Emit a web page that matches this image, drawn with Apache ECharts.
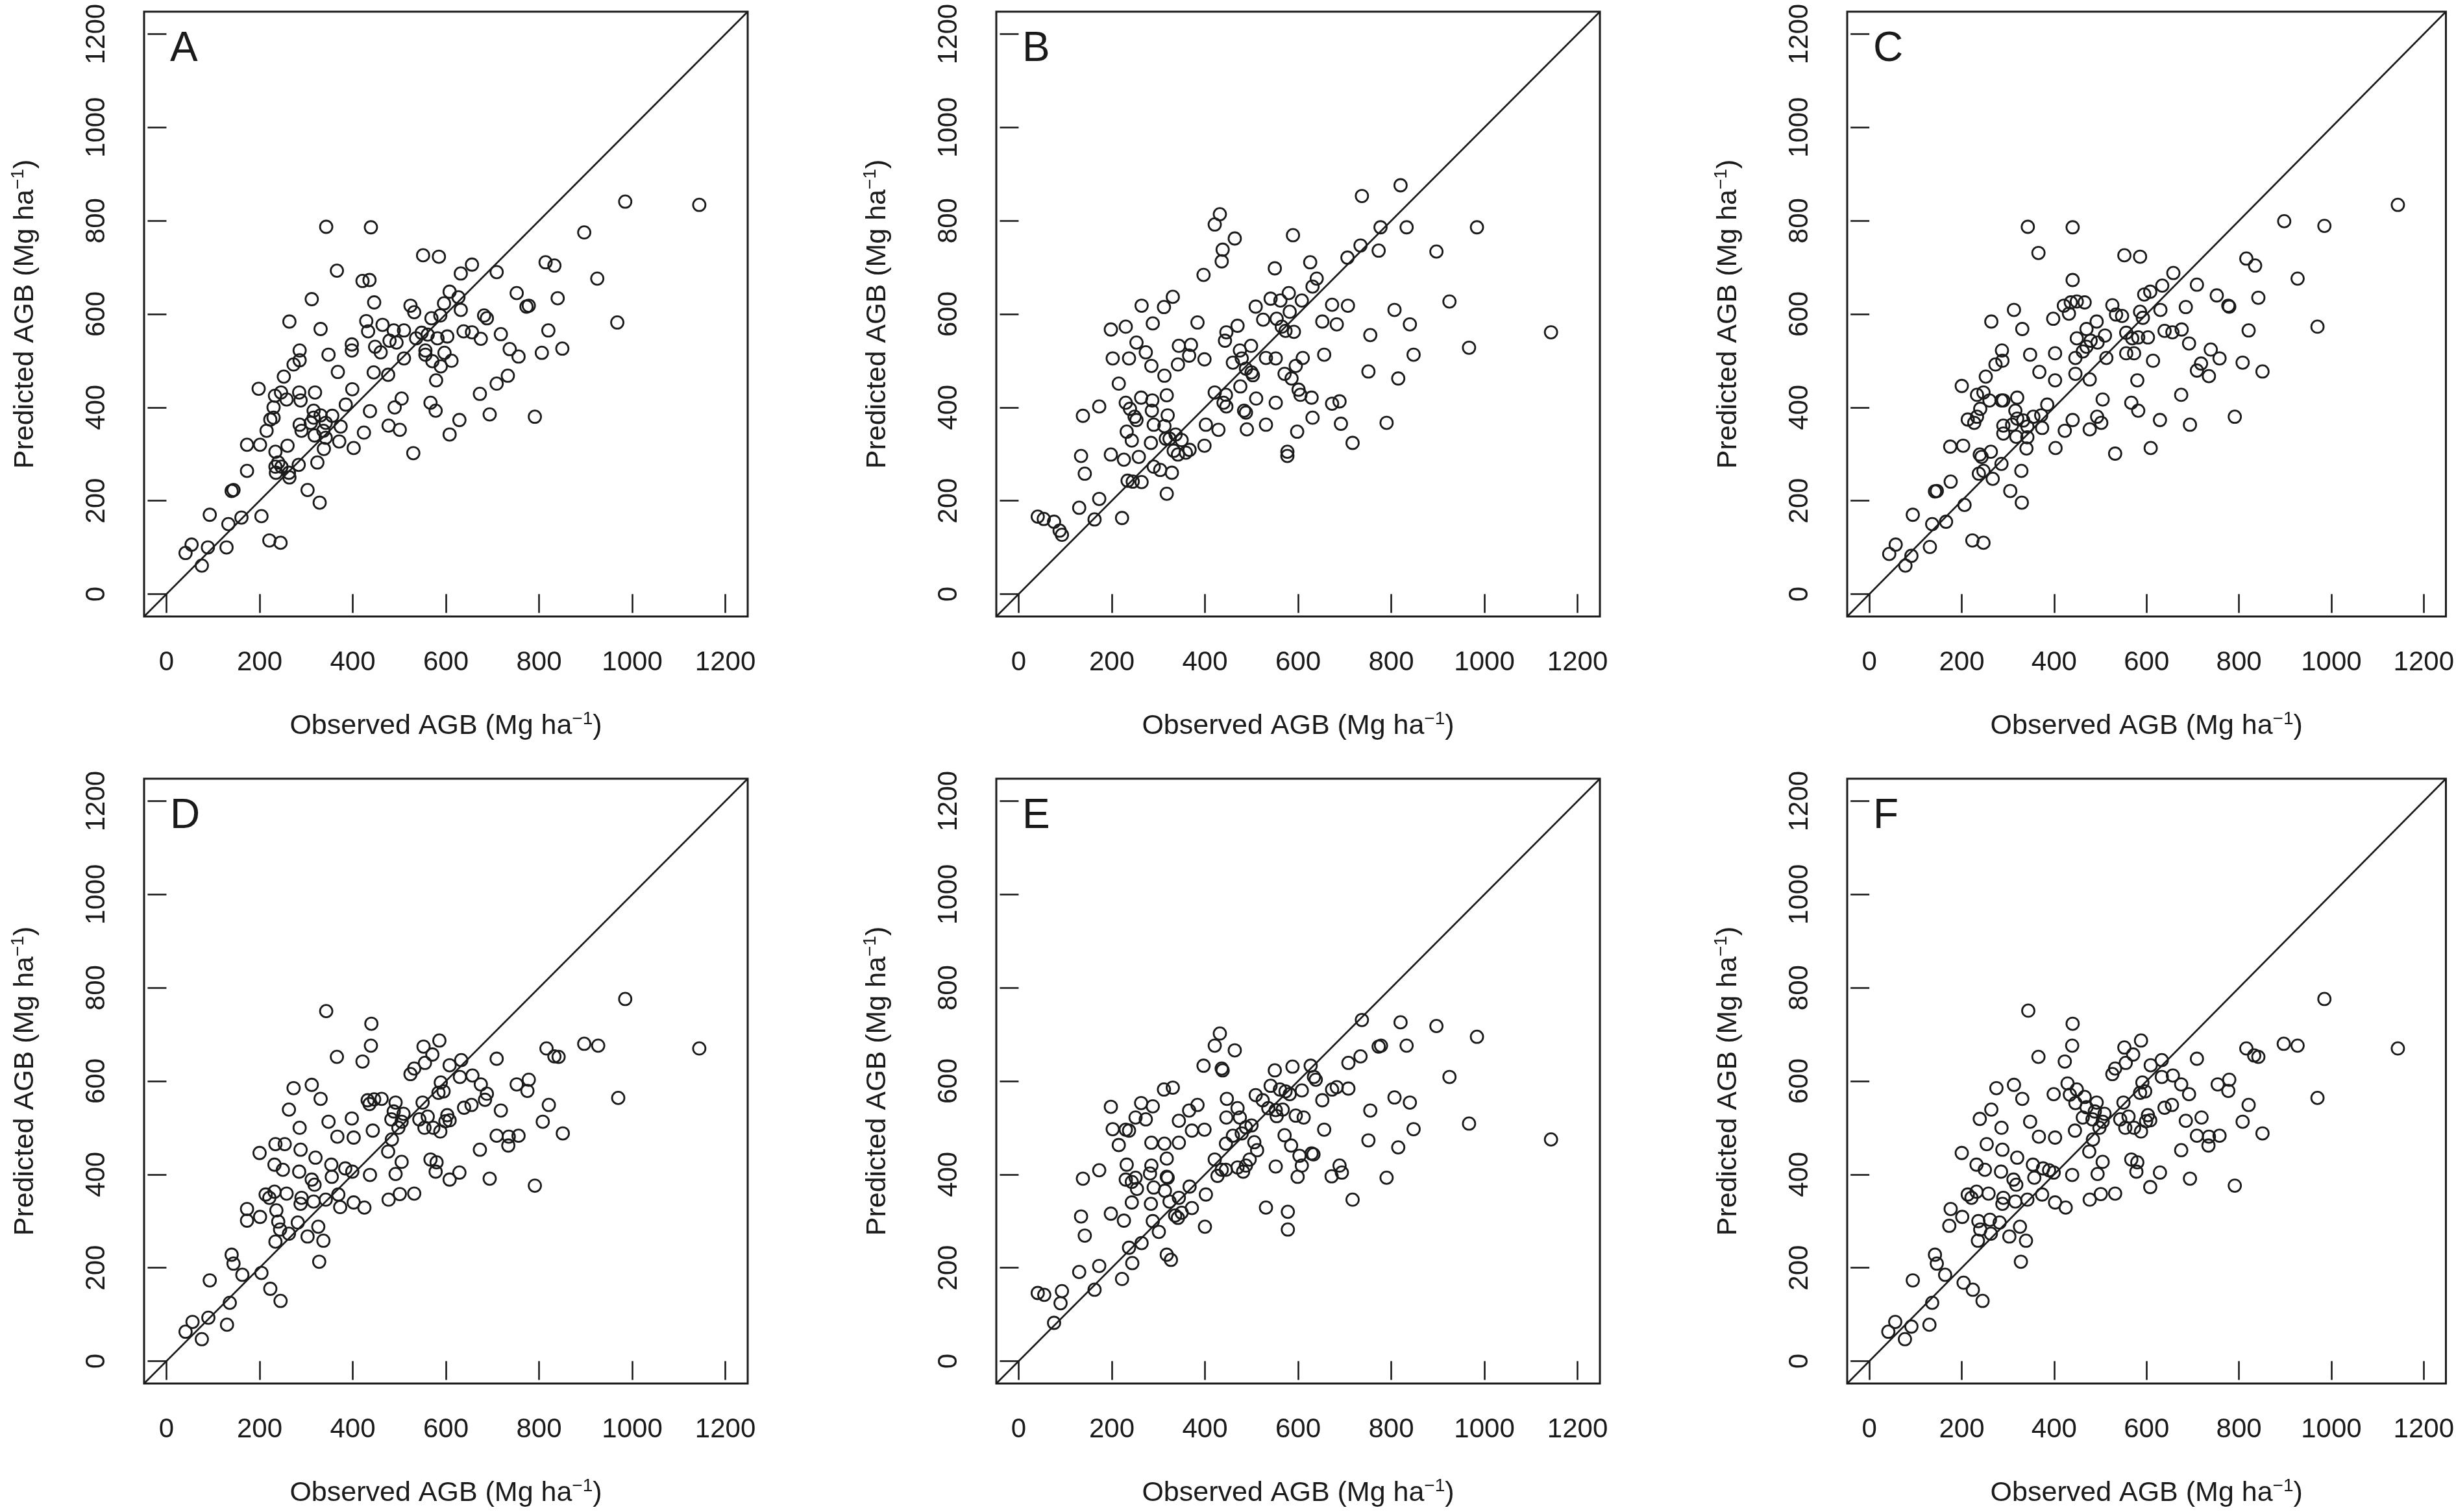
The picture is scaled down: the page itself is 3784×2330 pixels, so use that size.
<!DOCTYPE html>
<html>
<head>
<meta charset="utf-8">
<script src="https://cdn.jsdelivr.net/npm/echarts@6/dist/echarts.min.js"></script>
<style>
html,body{margin:0;padding:0;background:#fff;}
#chart{width:3784px;height:2330px;}
</style>
</head>
<body>
<div id="chart"></div>
<script>
// ---- data (Observed AGB, Predicted AGB) in Mg ha-1 ----
const panelLabels = ['A', 'B', 'C', 'D', 'E', 'F'];
const tickValues = [0, 200, 400, 600, 800, 1000, 1200];
const axisRange = [-48, 1248];

const panelA = [[985,841],[1144,834],[343,787],[439,786],[897,775],[551,726],[585,723],[656,706],[814,711],[833,704],[632,687],[709,690],[366,693],[925,676],[421,671],[436,673],[312,632],[446,625],[752,645],[840,634],[608,648],[627,636],[524,618],[532,604],[596,623],[632,609],[773,616],[778,618],[968,582],[264,584],[331,568],[429,585],[569,591],[588,597],[682,597],[688,591],[433,563],[464,577],[488,565],[510,565],[479,543],[494,539],[448,530],[548,560],[561,556],[536,548],[582,548],[603,552],[638,563],[656,561],[675,547],[718,557],[820,565],[398,535],[398,522],[286,522],[286,501],[273,492],[348,513],[460,518],[556,522],[556,513],[597,517],[612,500],[571,499],[589,488],[510,505],[737,525],[756,509],[806,517],[850,526],[252,466],[368,476],[445,475],[476,470],[579,458],[709,451],[733,468],[198,440],[246,432],[285,432],[319,432],[399,439],[233,425],[258,417],[288,415],[230,400],[385,406],[505,419],[490,400],[567,410],[578,393],[673,429],[437,392],[230,378],[223,374],[316,393],[316,378],[331,383],[356,382],[286,363],[310,367],[342,367],[374,359],[337,350],[215,350],[290,350],[318,340],[342,335],[424,346],[477,361],[501,352],[629,373],[694,385],[791,380],[608,342],[173,320],[201,320],[260,318],[371,327],[402,313],[338,311],[234,305],[530,302],[240,282],[234,273],[247,273],[284,277],[324,282],[173,264],[235,260],[263,260],[264,250],[140,221],[144,223],[303,223],[329,196],[93,170],[161,164],[133,150],[204,167],[221,115],[245,110],[54,106],[41,88],[89,100],[129,100],[76,61]];

const panelB = [[820,876],[737,853],[432,814],[421,792],[777,786],[833,786],[984,786],[589,769],[464,762],[438,738],[436,713],[734,747],[773,736],[706,721],[897,734],[626,711],[550,698],[397,684],[640,676],[631,659],[331,637],[264,618],[312,615],[541,633],[562,629],[580,645],[608,629],[509,616],[582,605],[525,588],[554,590],[673,620],[707,618],[925,627],[807,609],[384,582],[288,580],[198,567],[230,573],[470,575],[446,561],[443,543],[565,573],[591,562],[573,564],[652,584],[683,578],[840,578],[755,555],[1143,561],[967,528],[848,513],[253,539],[273,518],[344,532],[370,534],[366,511],[342,492],[202,505],[237,505],[399,503],[285,489],[475,522],[499,532],[460,496],[479,505],[488,483],[500,475],[503,469],[531,506],[552,505],[610,506],[595,489],[571,472],[586,462],[656,513],[751,477],[815,462],[313,468],[215,451],[421,432],[445,427],[440,410],[446,402],[476,445],[318,426],[510,419],[552,410],[601,438],[605,427],[629,421],[673,408],[689,413],[138,382],[173,402],[230,410],[239,397],[263,421],[287,415],[286,393],[249,380],[253,373],[320,383],[290,363],[313,360],[316,333],[324,333],[337,342],[232,348],[243,329],[284,324],[350,330],[359,303],[367,309],[342,299],[333,307],[399,318],[402,363],[429,352],[484,393],[488,389],[490,353],[531,363],[598,348],[631,378],[692,365],[717,324],[790,367],[577,305],[577,296],[134,296],[142,258],[198,299],[226,288],[258,294],[290,273],[304,266],[329,260],[234,243],[245,241],[264,240],[318,215],[173,204],[130,185],[163,160],[222,163],[41,166],[54,161],[76,155],[88,136],[93,127]];

const panelC = [[1144,834],[898,799],[985,789],[343,787],[440,786],[366,731],[552,726],[586,723],[816,719],[835,704],[658,688],[927,676],[440,673],[709,663],[634,661],[608,648],[595,642],[752,640],[842,635],[630,609],[685,615],[777,618],[779,616],[313,609],[421,618],[436,625],[449,627],[466,625],[526,619],[534,599],[547,596],[586,605],[592,592],[398,590],[432,601],[264,584],[331,568],[970,573],[821,565],[470,568],[492,584],[510,554],[449,548],[479,543],[494,539],[470,530],[556,560],[603,550],[582,550],[569,548],[639,564],[656,561],[676,567],[692,537],[556,516],[573,516],[513,506],[462,520],[446,506],[402,516],[348,513],[287,522],[288,500],[273,492],[614,500],[739,524],[758,505],[718,494],[709,479],[735,467],[808,496],[851,477],[252,466],[368,476],[402,458],[446,472],[477,460],[580,458],[200,446],[233,427],[247,432],[260,415],[286,415],[290,415],[320,421],[385,406],[505,417],[675,427],[567,410],[582,393],[240,397],[213,374],[227,367],[233,380],[316,393],[320,376],[333,372],[355,380],[372,383],[290,361],[309,363],[342,359],[374,356],[290,344],[318,337],[342,336],[440,373],[493,380],[502,367],[477,353],[423,350],[629,373],[694,363],[791,380],[175,316],[203,318],[263,305],[239,299],[340,312],[403,313],[532,301],[609,313],[243,294],[286,279],[237,258],[247,264],[267,247],[329,264],[176,241],[142,220],[146,221],[305,221],[330,196],[206,191],[94,170],[166,155],[136,150],[223,115],[247,110],[57,106],[43,86],[91,82],[131,101],[78,61]];

const panelD = [[985,776],[1144,670],[343,750],[440,723],[439,676],[552,674],[586,687],[571,657],[555,639],[897,680],[927,676],[816,670],[833,653],[842,652],[366,652],[421,642],[709,648],[633,645],[608,634],[630,609],[657,612],[532,627],[524,615],[778,603],[752,593],[775,579],[675,593],[688,573],[684,560],[589,597],[584,575],[595,578],[312,592],[273,585],[331,562],[970,564],[432,559],[446,561],[462,562],[436,551],[492,554],[488,535],[550,554],[655,549],[639,543],[821,549],[718,537],[263,539],[509,530],[505,513],[498,500],[483,518],[561,524],[543,518],[554,500],[573,500],[588,492],[603,527],[608,516],[599,514],[398,520],[348,513],[286,500],[443,494],[808,513],[851,488],[709,483],[735,481],[756,483],[734,462],[367,481],[402,479],[484,475],[234,465],[254,465],[288,453],[200,446],[476,449],[673,453],[320,436],[232,421],[250,410],[354,421],[384,413],[399,406],[285,406],[505,427],[567,432],[580,426],[578,406],[629,404],[492,401],[437,399],[608,389],[694,391],[791,376],[312,389],[318,378],[355,395],[213,357],[232,363],[258,359],[221,350],[290,350],[288,337],[316,342],[342,346],[369,357],[373,330],[402,340],[425,329],[477,346],[501,358],[532,359],[173,326],[173,301],[201,309],[236,323],[240,299],[244,282],[282,297],[263,273],[303,267],[326,288],[337,258],[234,256],[328,213],[140,228],[144,209],[163,185],[204,189],[93,173],[223,155],[245,129],[136,125],[90,93],[56,84],[41,63],[76,47],[130,78]];

const panelE = [[737,731],[820,726],[897,718],[984,695],[432,702],[421,676],[464,666],[773,674],[778,676],[833,676],[397,633],[436,627],[438,623],[550,623],[588,631],[627,633],[708,639],[734,653],[634,609],[638,603],[925,609],[312,582],[331,586],[541,590],[561,582],[573,578],[582,572],[608,580],[509,570],[524,559],[536,542],[554,525],[552,538],[673,582],[683,587],[708,584],[652,559],[807,565],[840,554],[755,537],[447,562],[198,545],[263,553],[288,546],[384,549],[366,537],[470,542],[446,522],[475,522],[251,522],[273,518],[344,515],[595,526],[612,522],[567,539],[656,496],[848,497],[967,509],[1143,475],[202,497],[230,496],[237,494],[372,494],[399,496],[488,501],[500,505],[479,488],[460,483],[571,484],[215,463],[285,468],[313,466],[344,468],[445,466],[506,469],[512,452],[496,432],[488,419],[482,406],[585,462],[603,440],[608,419],[599,395],[629,445],[633,443],[751,473],[815,458],[318,434],[421,432],[138,391],[173,409],[232,421],[230,389],[243,384],[251,393],[285,419],[282,402],[318,395],[320,393],[436,410],[427,397],[445,410],[470,415],[552,417],[689,419],[694,404],[672,396],[790,393],[254,369],[290,372],[314,365],[367,374],[402,357],[243,340],[284,337],[324,342],[344,350],[372,328],[350,318],[336,312],[342,307],[717,346],[531,329],[578,320],[578,282],[400,288],[134,310],[142,269],[198,316],[226,301],[288,300],[301,277],[264,253],[237,243],[244,210],[318,228],[327,217],[173,204],[130,191],[163,153],[222,176],[41,146],[55,142],[93,150],[90,124],[76,82]];

const panelF = [[985,776],[1144,670],[344,751],[440,723],[439,676],[552,672],[588,687],[571,657],[555,639],[897,680],[927,676],[816,670],[833,655],[842,652],[366,652],[423,642],[709,648],[633,645],[609,634],[633,609],[657,612],[532,627],[526,615],[779,603],[754,593],[777,579],[675,593],[692,572],[685,515],[591,597],[586,575],[597,578],[313,592],[275,585],[331,562],[970,564],[429,595],[449,582],[434,571],[446,553],[466,566],[470,544],[399,572],[492,554],[488,535],[550,554],[655,549],[639,543],[821,549],[719,522],[264,539],[239,519],[509,530],[505,513],[498,500],[483,518],[561,524],[543,518],[554,500],[573,500],[588,492],[603,527],[608,516],[599,514],[462,522],[348,513],[286,500],[445,494],[808,513],[851,488],[709,483],[735,481],[758,483],[734,462],[367,481],[402,479],[484,475],[254,465],[288,453],[200,446],[476,449],[675,452],[320,436],[232,421],[250,410],[354,421],[376,413],[389,409],[399,404],[285,406],[505,427],[567,432],[580,426],[578,406],[629,404],[494,401],[439,399],[608,373],[694,391],[791,376],[312,389],[318,378],[357,393],[213,357],[232,363],[258,359],[221,350],[290,350],[288,337],[316,342],[342,346],[374,357],[402,340],[425,329],[477,346],[501,358],[532,359],[176,326],[173,290],[201,309],[236,300],[240,282],[235,258],[261,303],[282,297],[263,273],[303,267],[326,288],[339,258],[328,213],[142,228],[146,209],[164,185],[204,168],[224,153],[245,129],[94,173],[136,125],[91,74],[56,84],[41,63],[77,47],[130,78]];

const panelData = [panelA, panelB, panelC, panelD, panelE, panelF];
const xTitle = 'Observed AGB (Mg ha{sup|\u22121})';
const yTitle = 'Predicted AGB (Mg ha{sup|\u22121})';

// ---- layout ----
const colLeft = [222, 1535, 2846];
const rowTop = [18, 1200];
const boxW = 930, boxH = 932;
const ink = '#1a1a1a';
const font = 'Liberation Sans, Arial, Helvetica, sans-serif';
const plainNumber = (v) => String(v);

const grids = [], xAxes = [], yAxes = [], series = [], titles = [];
const richSup = {
  sup: { fontSize: 28, verticalAlign: 'top', lineHeight: 22, color: ink, fontFamily: font },
};
panelData.forEach((pts, i) => {
  const c = i % 3, r = Math.floor(i / 3);
  grids.push({ left: colLeft[c], top: rowTop[r], width: boxW, height: boxH,
    show: true, borderColor: ink, borderWidth: 3, backgroundColor: '#fff', containLabel: false });
  const common = {
    type: 'value', gridIndex: i, min: axisRange[0], max: axisRange[1],
    splitLine: { show: false },
    axisLine: { show: false },
    axisTick: { show: true, inside: false, length: 29, customValues: tickValues,
      lineStyle: { color: ink, width: 2.6 } },
    nameTextStyle: { fontSize: 43, color: ink, fontFamily: font, lineHeight: 50, rich: richSup },
  };
  xAxes.push(Object.assign({}, common, {
    position: 'bottom',
    axisLabel: { customValues: tickValues, formatter: plainNumber, fontSize: 42, color: ink, fontFamily: font, margin: 50 },
    name: xTitle, nameLocation: 'middle', nameGap: 144,
  }));
  yAxes.push(Object.assign({}, common, {
    position: 'left',
    axisLabel: { customValues: tickValues, formatter: plainNumber, fontSize: 42, color: ink, fontFamily: font, margin: 52, rotate: 90 },
    name: yTitle, nameLocation: 'middle', nameGap: 158,
  }));
  series.push({
    type: 'scatter', xAxisIndex: i, yAxisIndex: i, data: pts,
    symbol: 'circle', symbolSize: 19,
    itemStyle: { color: 'rgba(255,255,255,0)', borderColor: ink, borderWidth: 2.8, opacity: 1 },
    emphasis: { disabled: true }, z: 3,
  });
  series.push({
    type: 'line', xAxisIndex: i, yAxisIndex: i,
    data: [[axisRange[0], axisRange[0]], [axisRange[1], axisRange[1]]],
    showSymbol: false, symbol: 'none', clip: true,
    lineStyle: { color: ink, width: 2.6 }, z: 2, silent: true,
  });
  titles.push({ text: panelLabels[i], left: colLeft[c] + 40, top: rowTop[r] + 26,
    padding: 0,
    textStyle: { fontSize: 64, fontWeight: 'normal', color: ink, fontFamily: font } });
});

const chart = echarts.init(document.getElementById('chart'), null, { renderer: 'canvas' });
chart.setOption({
  animation: false,
  backgroundColor: '#fff',
  title: titles,
  grid: grids,
  xAxis: xAxes,
  yAxis: yAxes,
  series: series,
});
</script>
</body>
</html>
